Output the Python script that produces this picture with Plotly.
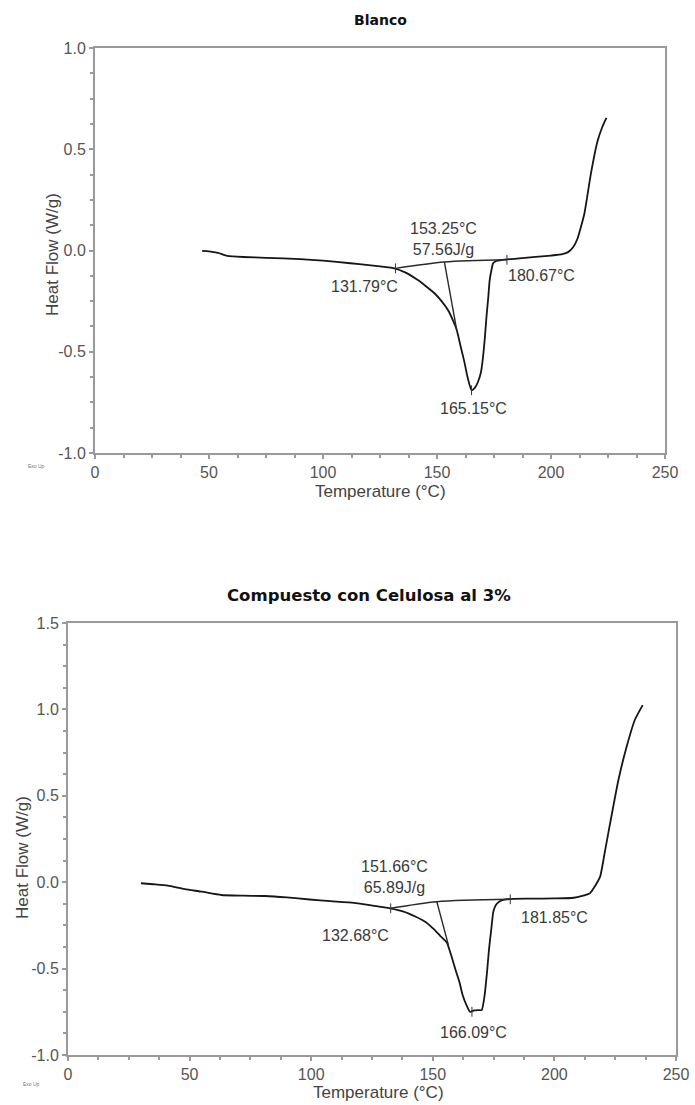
import plotly.graph_objects as go

# All pixel positions below are window pixels; body margin is removed by post_script.
OFF = 0
W, H = 695, 1105

# ---------------- Data: Blanco ----------------
blanco_T = [47, 50, 54, 58, 65, 75, 90, 100, 112, 120, 126, 131.3, 136, 141.6, 145, 148.9,
            152, 154.8, 157, 158.6, 160.3, 162, 163.5, 165.15, 166.5, 168, 169.3, 170.2, 171,
            171.7, 172.5, 173.1, 174, 174.6, 176, 178.3, 185, 192, 200, 205, 207.5, 209.7,
            211.6, 214.6, 217.5, 220.4, 222.5, 224.3]
blanco_HF = [-0.002, -0.004, -0.012, -0.026, -0.032, -0.036, -0.043, -0.05, -0.063, -0.072,
             -0.08, -0.088, -0.108, -0.146, -0.175, -0.211, -0.25, -0.294, -0.345, -0.39,
             -0.47, -0.55, -0.63, -0.69, -0.68, -0.648, -0.6, -0.524, -0.43, -0.327, -0.23,
             -0.146, -0.09, -0.063, -0.052, -0.047, -0.04, -0.033, -0.025, -0.018, -0.008,
             0.016, 0.058, 0.18, 0.38, 0.54, 0.61, 0.655]
blanco_base_T = [131.79, 153.25, 180.67]
blanco_base_HF = [-0.088, -0.057, -0.046]
blanco_tan_T = [153.25, 158.6]
blanco_tan_HF = [-0.057, -0.39]
blanco_mark_T = [131.79, 180.67, 165.15]
blanco_mark_HF = [-0.088, -0.046, -0.69]
blanco_labels = ["153.25°C<br>57.56J/g", "131.79°C", "180.67°C", "165.15°C"]
blanco_label_px = [(443, 239), (364, 287), (541, 275), (473, 408)]

# ---------------- Data: Compuesto con Celulosa al 3% ----------------
cel_T = [30, 35, 41, 48, 55, 63, 72, 81, 90, 99.3, 108, 117.5, 125, 132.4, 138, 143, 147,
         150.3, 153, 155.8, 157.5, 159.4, 161, 162.2, 163.8, 165.3, 167, 168.5, 170.1, 171.3,
         172.3, 173.1, 174, 174.9, 176, 177.6, 180, 183, 190, 200, 208, 214.6, 216.8, 218.8,
         220.8, 222.9, 226.3, 229.7, 233.1, 236.3]
cel_HF = [-0.006, -0.012, -0.02, -0.04, -0.055, -0.074, -0.078, -0.08, -0.088, -0.10, -0.11,
          -0.12, -0.135, -0.151, -0.17, -0.20, -0.23, -0.27, -0.31, -0.35, -0.42, -0.51,
          -0.58, -0.65, -0.71, -0.75, -0.742, -0.74, -0.74, -0.655, -0.52, -0.39, -0.277,
          -0.17, -0.13, -0.11, -0.1, -0.096, -0.095, -0.094, -0.09, -0.064, -0.02, 0.032,
          0.18, 0.34, 0.59, 0.784, 0.94, 1.025]
cel_base_T = [132.68, 151.66, 181.85]
cel_base_HF = [-0.151, -0.113, -0.099]
cel_tan_T = [151.66, 156.4]
cel_tan_HF = [-0.113, -0.363]
cel_mark_T = [132.68, 181.85, 166.09]
cel_mark_HF = [-0.151, -0.099, -0.75]
cel_labels = ["151.66°C<br>65.89J/g", "132.68°C", "181.85°C", "166.09°C"]
cel_label_px = [(394, 877), (355, 935), (554, 917), (473, 1032)]

titles = ["Blanco", "Compuesto con Celulosa al 3%"]
x_ticks = [0, 50, 100, 150, 200, 250]
x_ticklabels = ["0", "50", "100", "150", "200", "250"]
top_y_ticks = [-1.0, -0.5, 0.0, 0.5, 1.0]
top_y_ticklabels = ["-1.0", "-0.5", "0.0", "0.5", "1.0"]
bot_y_ticks = [-1.0, -0.5, 0.0, 0.5, 1.0, 1.5]
bot_y_ticklabels = ["-1.0", "-0.5", "0.0", "0.5", "1.0", "1.5"]

# ---------------- Layout geometry (window pixels) ----------------
top_box = (95, 665, 48, 453)     # left, right, top, bottom
bot_box = (68, 676, 623, 1055)


def dom_x(b):
    return [(b[0] - OFF) / W, (b[1] - OFF) / W]


def dom_y(b):
    return [1 - (b[3] - OFF) / H, 1 - (b[2] - OFF) / H]


fig = go.Figure()
line_kw = dict(color="#161616", width=1.8)
thin_kw = dict(color="#2a2a2a", width=1.4)

for (T, HF, bT, bHF, tT, tHF, mT, mHF, xa, ya) in [
    (blanco_T, blanco_HF, blanco_base_T, blanco_base_HF, blanco_tan_T, blanco_tan_HF,
     blanco_mark_T, blanco_mark_HF, "x", "y"),
    (cel_T, cel_HF, cel_base_T, cel_base_HF, cel_tan_T, cel_tan_HF,
     cel_mark_T, cel_mark_HF, "x2", "y2"),
]:
    fig.add_trace(go.Scatter(x=T, y=HF, mode="lines", line=dict(shape="spline", smoothing=0.5, **line_kw),
                             xaxis=xa, yaxis=ya, showlegend=False, hoverinfo="skip"))
    fig.add_trace(go.Scatter(x=bT, y=bHF, mode="lines", line=dict(shape="spline", smoothing=0.8, **thin_kw),
                             xaxis=xa, yaxis=ya, showlegend=False, hoverinfo="skip"))
    fig.add_trace(go.Scatter(x=tT, y=tHF, mode="lines", line=thin_kw,
                             xaxis=xa, yaxis=ya, showlegend=False, hoverinfo="skip"))
    fig.add_trace(go.Scatter(x=mT, y=mHF, mode="markers",
                             marker=dict(symbol="line-ns", size=7, line=dict(color="#333", width=1)),
                             xaxis=xa, yaxis=ya, showlegend=False, hoverinfo="skip"))

axis_common = dict(
    showline=True, mirror=True, linecolor="#9a9a9a", linewidth=2,
    showgrid=False, zeroline=False, ticks="outside", ticklen=4, tickwidth=1.5,
    tickcolor="#9a9a9a", automargin=False,
    tickfont=dict(family="Liberation Sans, Arial, sans-serif", size=16, color="#555"),
)
minor_x = dict(dtick=12.5, ticks="outside", ticklen=3, tickcolor="#9a9a9a")
minor_y = dict(dtick=0.125, ticks="outside", ticklen=3, tickcolor="#9a9a9a")

fig.update_layout(
    width=W, height=H,
    margin=dict(l=0, r=0, t=0, b=0),
    paper_bgcolor="white", plot_bgcolor="white",
    xaxis=dict(domain=dom_x(top_box), anchor="y", range=[0, 250], tickvals=x_ticks,
               ticktext=x_ticklabels, minor=minor_x, **axis_common),
    yaxis=dict(domain=dom_y(top_box), anchor="x", range=[-1.0, 1.0], tickvals=top_y_ticks,
               ticktext=top_y_ticklabels, minor=minor_y, **axis_common),
    xaxis2=dict(domain=dom_x(bot_box), anchor="y2", range=[0, 250], tickvals=x_ticks,
                ticktext=x_ticklabels, minor=minor_x, **axis_common),
    yaxis2=dict(domain=dom_y(bot_box), anchor="x2", range=[-1.0, 1.5], tickvals=bot_y_ticks,
                ticktext=bot_y_ticklabels, minor=minor_y, **axis_common),
)

ann = []
lab_font = dict(family="Liberation Sans, Arial, sans-serif", size=16, color="#3a3a3a")


def px_ann(text, x, y, **kw):
    d = dict(text=text, x=(x - OFF) / W, y=1 - (y - OFF) / H, xref="paper", yref="paper",
             showarrow=False, xanchor="center", yanchor="middle")
    d.update(kw)
    return d


for lbls, pos in [(blanco_labels, blanco_label_px), (cel_labels, cel_label_px)]:
    for t, (x, y) in zip(lbls, pos):
        ann.append(px_ann(t, x, y, font=lab_font))

ann.append(px_ann("<b>" + titles[0] + "</b>", 381, 20,
                  font=dict(family="DejaVu Sans, sans-serif", size=14, color="#111")))
ann.append(px_ann("<b>" + titles[1] + "</b>", 369, 595,
                  font=dict(family="DejaVu Sans, sans-serif", size=16.5, color="#111")))

ax_font = dict(family="Liberation Sans, Arial, sans-serif", size=17, color="#444")
ann.append(px_ann("Heat Flow (W/g)", 52, 255, textangle=-90, font=ax_font))
ann.append(px_ann("Heat Flow (W/g)", 22, 858, textangle=-90, font=ax_font))
ann.append(px_ann("Temperature (°C)", 380, 491, font=ax_font))
ann.append(px_ann("Temperature (°C)", 378, 1092, font=ax_font))

exo_font = dict(family="Liberation Sans, Arial, sans-serif", size=5, color="#777")
ann.append(px_ann("Exo Up", 36, 466, font=exo_font))
ann.append(px_ann("Exo Up", 31, 1084, font=exo_font))

fig.update_layout(annotations=ann)
fig.write_html(
    "out.html",
    config={"displayModeBar": False},
    post_script="document.body.style.margin='0';document.body.style.overflow='hidden';",
)
